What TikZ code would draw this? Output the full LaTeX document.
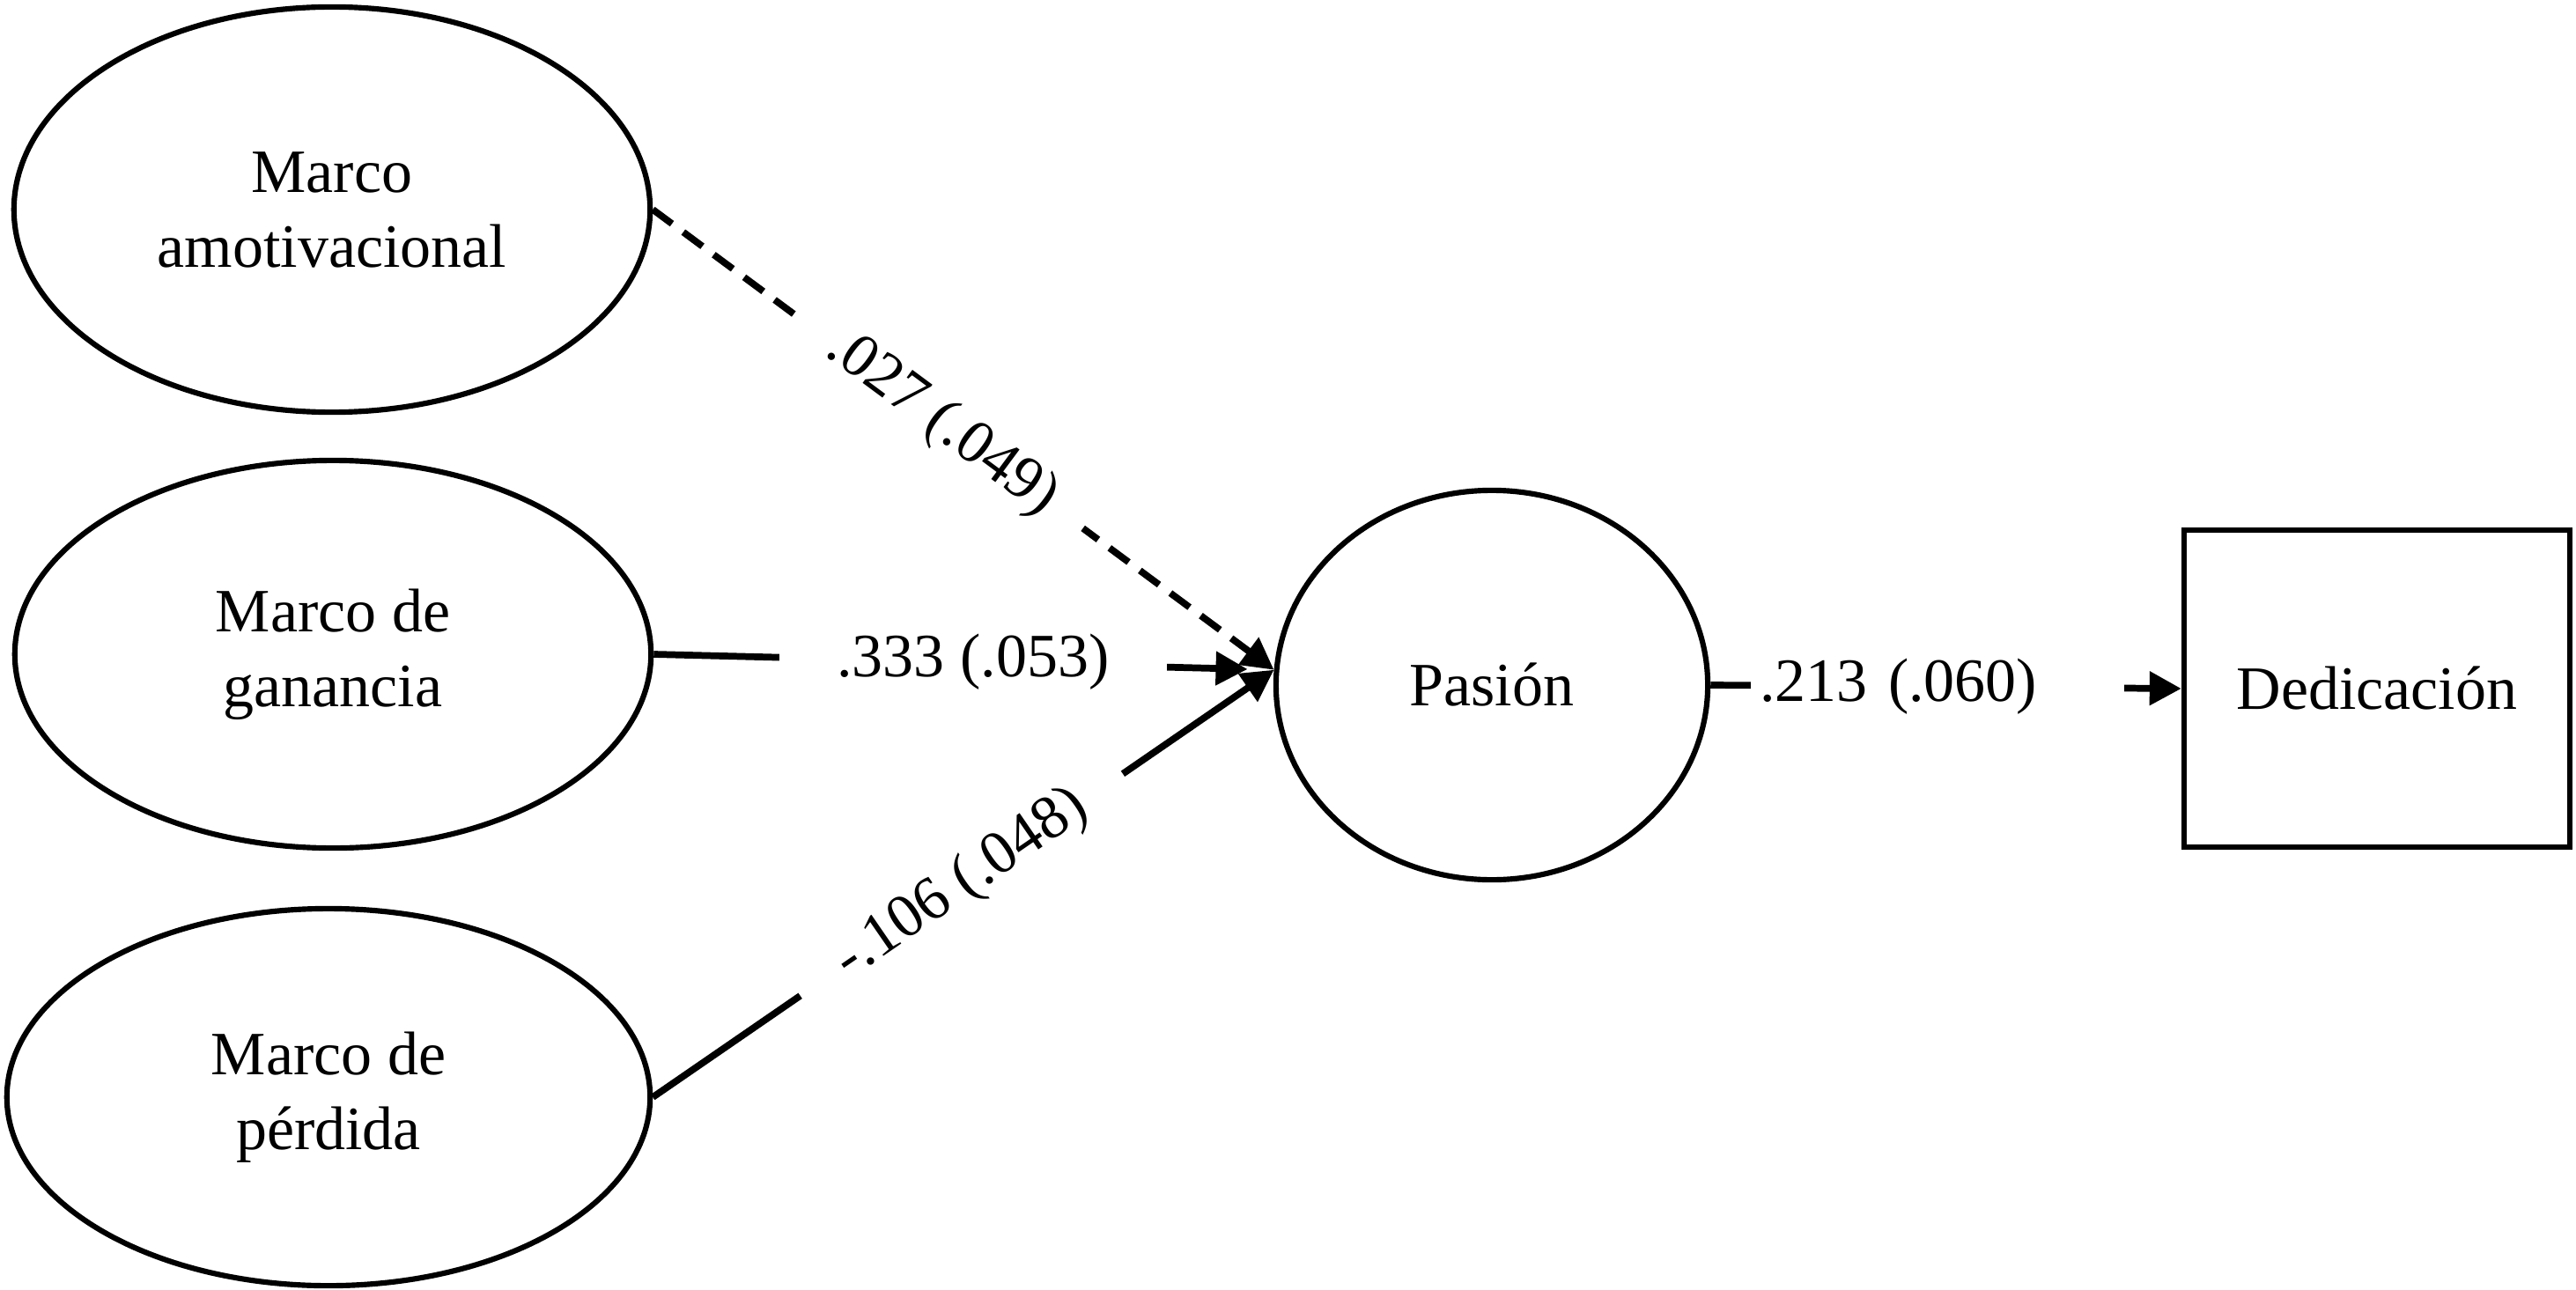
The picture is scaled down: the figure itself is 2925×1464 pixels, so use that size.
\documentclass[tikz,border=0pt]{standalone}
\usepackage{fontspec}
\setmainfont{Liberation Serif}
\usetikzlibrary{shapes.geometric,arrows.meta}
\begin{document}
\begin{tikzpicture}[x=0.01cm,y=-0.01cm,
  font=\fontsize{19.9}{24.2}\selectfont,
  latent/.style={draw,ellipse,line width=1.75pt,inner sep=0pt,align=center},
  obsbox/.style={draw,rectangle,line width=1.75pt,minimum width=4.38cm,minimum height=3.6cm},
  pathline/.style={line width=2.2pt,-{Triangle[length=0.36cm,width=0.37cm]}},
  coef/.style={fill=white,inner ysep=0.05cm}
]
\useasboundingbox (0,0) rectangle (2925,1464);
\node[latent,minimum width=7.22cm,minimum height=4.6cm] (amot) at (377,238) {Marco\\amotivacional};
\node[latent,minimum width=7.22cm,minimum height=4.4cm] (gan) at (378,743) {Marco de\\ganancia};
\node[latent,minimum width=7.3cm,minimum height=4.28cm] (perd) at (373,1246) {Marco de\\pérdida};
\node[latent,minimum width=4.9cm,minimum height=4.42cm] (pas) at (1694,778) {Pasión};
\node[obsbox] (ded) at (2699,782) {Dedicación};
\draw[pathline,dash pattern=on 0.27cm off 0.16cm] (amot.east) -- node[coef,sloped,inner xsep=0.45cm,pos=0.465]{.027 (.049)} (pas.176);
\draw[pathline,shorten >=0.3cm] (gan.east) -- node[coef,inner xsep=0.65cm,pos=0.515]{.333 (.053)} (pas.176);
\draw[pathline] (perd.east) -- node[coef,sloped,inner xsep=0.56cm,pos=0.497]{-.106 (.048)} (pas.176);
\draw[pathline] (pas.east) -- node[coef,inner xsep=0.1cm,text width=4.03cm,align=left,pos=0.482]{.213 (.060)} (ded.west);
\end{tikzpicture}
\end{document}
